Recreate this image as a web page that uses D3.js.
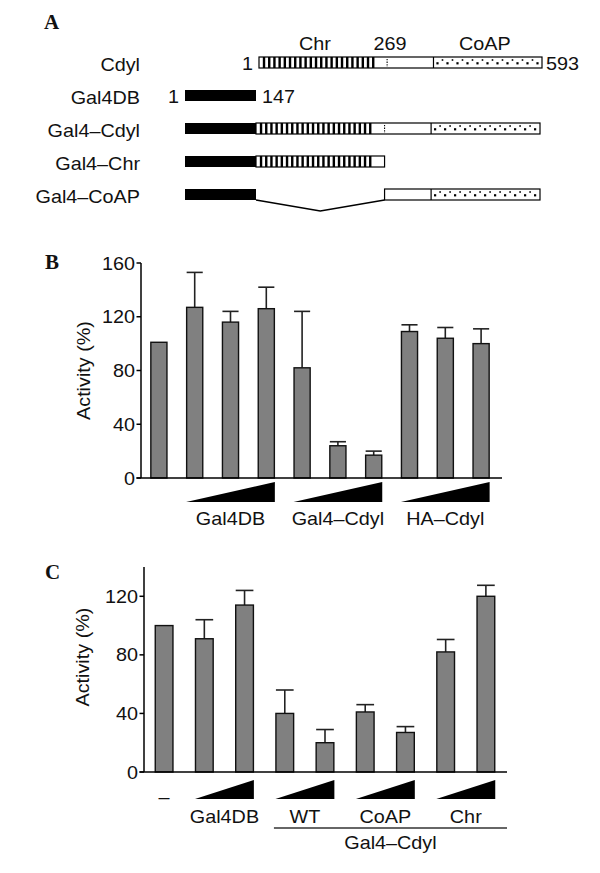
<!DOCTYPE html>
<html><head><meta charset="utf-8">
<script src="https://cdn.jsdelivr.net/npm/d3@7"></script>
<style>html,body{margin:0;padding:0;background:#fff;}svg{display:block;}</style>
</head><body>
<script>
// ---------- DATA ----------
// Panel A: constructs (residue ranges)
const constructs = ["Cdyl", "Gal4DB", "Gal4–Cdyl", "Gal4–Chr", "Gal4–CoAP"];
const gal4Range = [1, 147];          // Gal4 DNA-binding domain residues
const cdylLength = 593;
const chrDomain = [9, 243];          // chromodomain (striped)
const hingeMark = 269;               // dotted marker
const coapDomain = [366, 593];       // CoAP domain (dotted)
const hasGal4 = [false, true, true, true, true];
const cdylSegments = [[[1, 593]], [], [[1, 593]], [[1, 269]], [[269, 593]]];
const deletion = [null, null, null, null, [1, 269]];

// Panel B
const bCategories = ["ctrl", "Gal4DB-1", "Gal4DB-2", "Gal4DB-3", "Gal4Cdyl-1", "Gal4Cdyl-2", "Gal4Cdyl-3", "HACdyl-1", "HACdyl-2", "HACdyl-3"];
const bValues = [101, 127, 116, 126, 82, 24, 17, 109, 104, 100];
const bErrors = [0, 26, 8, 16, 42, 3, 3, 5, 8, 11];
const bTicks = [0, 40, 80, 120, 160];
const bGroups = [
  {label: "Gal4DB", from: 1, to: 3},
  {label: "Gal4–Cdyl", from: 4, to: 6},
  {label: "HA–Cdyl", from: 7, to: 9}
];

// Panel C
const cCategories = ["ctrl", "Gal4DB-1", "Gal4DB-2", "WT-1", "WT-2", "CoAP-1", "CoAP-2", "Chr-1", "Chr-2"];
const cValues = [100, 91, 114, 40, 20, 41, 27, 82, 120];
const cErrors = [0, 13, 10, 16, 9, 5, 4, 8.5, 7.5];
const cTicks = [0, 40, 80, 120];
const cGroups = [
  {label: "Gal4DB", from: 1, to: 2},
  {label: "WT", from: 3, to: 4},
  {label: "CoAP", from: 5, to: 6},
  {label: "Chr", from: 7, to: 8}
];

// ---------- DRAW ----------
const W = 600, H = 873;
const svg = d3.select("body").append("svg").attr("width", W).attr("height", H);
const SANS = "'Liberation Sans', Arial, Helvetica, sans-serif";
const SERIF = "'Liberation Serif', 'Times New Roman', serif";
const SX = 1.1;

function txt(x, y, s, o = {}) {
  const g = svg.append("g").attr("transform",
    `translate(${x},${y})` + (o.rotate ? ` rotate(${o.rotate})` : "") + ` scale(${o.sx ?? SX},1)`);
  g.append("text").text(s)
    .attr("font-family", o.family || SANS)
    .attr("font-size", o.size || 18)
    .attr("font-weight", o.weight || "normal")
    .attr("text-anchor", o.anchor || "start")
    .attr("fill", "#111");
  return g;
}

// ===== Panel A =====
txt(44, 29, "A", {family: SERIF, weight: "bold", size: 21, sx: 1});
const rowY = d3.scalePoint().domain(constructs).range([57, 189]);
const boxH = 11;
const gal4X = d3.scaleLinear().domain(gal4Range).range([185, 256]);
const cdylAlone = d3.scaleLinear().domain([1, cdylLength]).range([259, 542]);
const cdylFused = d3.scaleLinear().domain([1, cdylLength]).range([256, 540]);

constructs.forEach((name, i) => {
  const y = rowY(name);
  txt(140, y + boxH + 3, name, {anchor: "end"});
  const xs = hasGal4[i] ? cdylFused : cdylAlone;
  if (hasGal4[i]) {
    svg.append("rect").attr("x", gal4X(gal4Range[0])).attr("y", y)
      .attr("width", gal4X(gal4Range[1]) - gal4X(gal4Range[0])).attr("height", boxH).attr("fill", "#000");
  }
  cdylSegments[i].forEach(([a, b]) => {
    const x0 = xs(a), x1 = xs(b);
    svg.append("rect").attr("x", x0).attr("y", y).attr("width", x1 - x0).attr("height", boxH)
      .attr("fill", "#fff").attr("stroke", "#000").attr("stroke-width", 1.2);
    // chromodomain stripes
    const c0 = Math.max(a, chrDomain[0]), c1 = Math.min(b, chrDomain[1]);
    if (c1 > c0) {
      d3.range(xs(c0), xs(c1), 5.2).forEach(sx => {
        svg.append("rect").attr("x", sx).attr("y", y).attr("width", 2.4).attr("height", boxH).attr("fill", "#000");
      });
    }
    // hinge dotted marker
    if (hingeMark > a && hingeMark < b) {
      svg.append("line").attr("x1", xs(hingeMark)).attr("x2", xs(hingeMark))
        .attr("y1", y + 2).attr("y2", y + boxH - 1)
        .attr("stroke", "#000").attr("stroke-width", 1.1).attr("stroke-dasharray", "1.3,1.3");
    }
    // CoAP dots
    const p0 = Math.max(a, coapDomain[0]), p1 = Math.min(b, coapDomain[1]);
    if (p1 > p0) {
      svg.append("line").attr("x1", xs(p0)).attr("x2", xs(p0)).attr("y1", y).attr("y2", y + boxH)
        .attr("stroke", "#000").attr("stroke-width", 1.2);
      d3.range(xs(p0) + 4, xs(p1) - 2, 5).forEach((dx, k) => {
        const big = k % 2 === 0;
        svg.append("rect").attr("x", dx - (big ? 1.1 : 0.8)).attr("y", y + (big ? 5.2 : 2.2))
          .attr("width", big ? 2.2 : 1.6).attr("height", big ? 2.2 : 1.6).attr("fill", "#000");
      });
    }
  });
  if (deletion[i]) {
    const [a, b] = deletion[i];
    const x0 = xs(a), x1 = xs(b);
    svg.append("path").attr("d", `M${x0},${y + boxH} L${(x0 + x1) / 2},${y + boxH + 11} L${x1},${y + boxH}`)
      .attr("fill", "none").attr("stroke", "#000").attr("stroke-width", 1.5);
  }
});
// residue numbers
const yC0 = rowY("Cdyl"), yG0 = rowY("Gal4DB");
txt(cdylAlone(1) - 6, yC0 + boxH + 2, "1", {anchor: "end"});
txt(cdylAlone(cdylLength) + 4, yC0 + boxH + 2, String(cdylLength));
txt(gal4X(1) - 6, yG0 + boxH + 2, "1", {anchor: "end"});
txt(gal4X(147) + 6, yG0 + boxH + 2, "147");
txt(cdylAlone((chrDomain[0] + chrDomain[1]) / 2 - 8), yC0 - 7, "Chr", {anchor: "middle"});
txt(cdylAlone(hingeMark) + 3, yC0 - 7, String(hingeMark), {anchor: "middle"});
txt(cdylAlone((coapDomain[0] + coapDomain[1]) / 2 - 6), yC0 - 7, "CoAP", {anchor: "middle"});

// ===== bar panel helper =====
function barPanel(cfg) {
  const y = d3.scaleLinear().domain(cfg.domain).range([cfg.y0, cfg.y1]);
  const x = d3.scaleBand().domain(cfg.cats).range([cfg.x0, cfg.x1]).paddingInner(cfg.pad).paddingOuter(cfg.pad / 2);
  const g = svg.append("g");
  g.append("line").attr("x1", cfg.x0).attr("x2", cfg.x0).attr("y1", y(0)).attr("y2", y(cfg.domain[1]))
    .attr("stroke", "#000").attr("stroke-width", 1.5);
  cfg.ticks.forEach(t => {
    g.append("line").attr("x1", cfg.x0 - 4.5).attr("x2", cfg.x0).attr("y1", y(t)).attr("y2", y(t))
      .attr("stroke", "#000").attr("stroke-width", 1.5);
    txt(cfg.x0 - 6, y(t) + 6.5, String(t), {anchor: "end"});
  });
  cfg.values.forEach((v, i) => {
    const bx = x(cfg.cats[i]), bw = x.bandwidth();
    const e = cfg.errors[i];
    if (e > 0) {
      g.append("line").attr("x1", bx + bw / 2).attr("x2", bx + bw / 2).attr("y1", y(v)).attr("y2", y(v + e))
        .attr("stroke", "#222").attr("stroke-width", 1.6);
      g.append("line").attr("x1", bx).attr("x2", bx + bw).attr("y1", y(v + e)).attr("y2", y(v + e))
        .attr("stroke", "#222").attr("stroke-width", 1.6);
    }
    g.append("rect").attr("x", bx).attr("y", y(v)).attr("width", bw).attr("height", y(0) - y(v))
      .attr("fill", "#808080").attr("stroke", "#111").attr("stroke-width", 1.4);
  });
  g.append("line").attr("x1", cfg.x0 - 4.5).attr("x2", cfg.xEnd).attr("y1", y(0)).attr("y2", y(0))
    .attr("stroke", "#000").attr("stroke-width", 1.5);
  txt(cfg.labelX, (y(0) + y(cfg.labelMid)) / 2, "Activity (%)", {anchor: "middle", rotate: -90});
  cfg.groups.forEach(gr => {
    const l = x(cfg.cats[gr.from]) - 0.5, r = x(cfg.cats[gr.to]) + x.bandwidth() + 0.5;
    g.append("path").attr("d", `M${l},${cfg.wy1} L${r},${cfg.wy1} L${r},${cfg.wy0} Z`).attr("fill", "#000");
    txt((l + r) / 2, cfg.labelY, gr.label, {anchor: "middle"});
  });
  return {x, y};
}

// ===== Panel B =====
txt(45, 269, "B", {family: SERIF, weight: "bold", size: 21, sx: 1});
barPanel({
  cats: bCategories, values: bValues, errors: bErrors, ticks: bTicks, groups: bGroups,
  domain: [0, 160], y0: 478, y1: 263, x0: 141, x1: 499, xEnd: 502, pad: 0.55,
  labelX: 90, labelMid: 160, wy0: 482, wy1: 502, labelY: 525
});

// ===== Panel C =====
txt(45, 579, "C", {family: SERIF, weight: "bold", size: 21, sx: 1});
const pc = barPanel({
  cats: cCategories, values: cValues, errors: cErrors, ticks: cTicks, groups: cGroups,
  domain: [0, 140], y0: 772, y1: 567, x0: 144, x1: 506, xEnd: 507, pad: 0.56,
  labelX: 89, labelMid: 157, wy0: 780, wy1: 799, labelY: 823
});
txt(pc.x(cCategories[0]) + pc.x.bandwidth() / 2, 803, "–", {anchor: "middle"});
const bl = pc.x(cCategories[3]) - 2;
svg.append("line").attr("x1", bl).attr("x2", 507).attr("y1", 828).attr("y2", 828)
  .attr("stroke", "#333").attr("stroke-width", 1.5);
txt((bl + 507) / 2, 849, "Gal4–Cdyl", {anchor: "middle"});
</script>
</body></html>
